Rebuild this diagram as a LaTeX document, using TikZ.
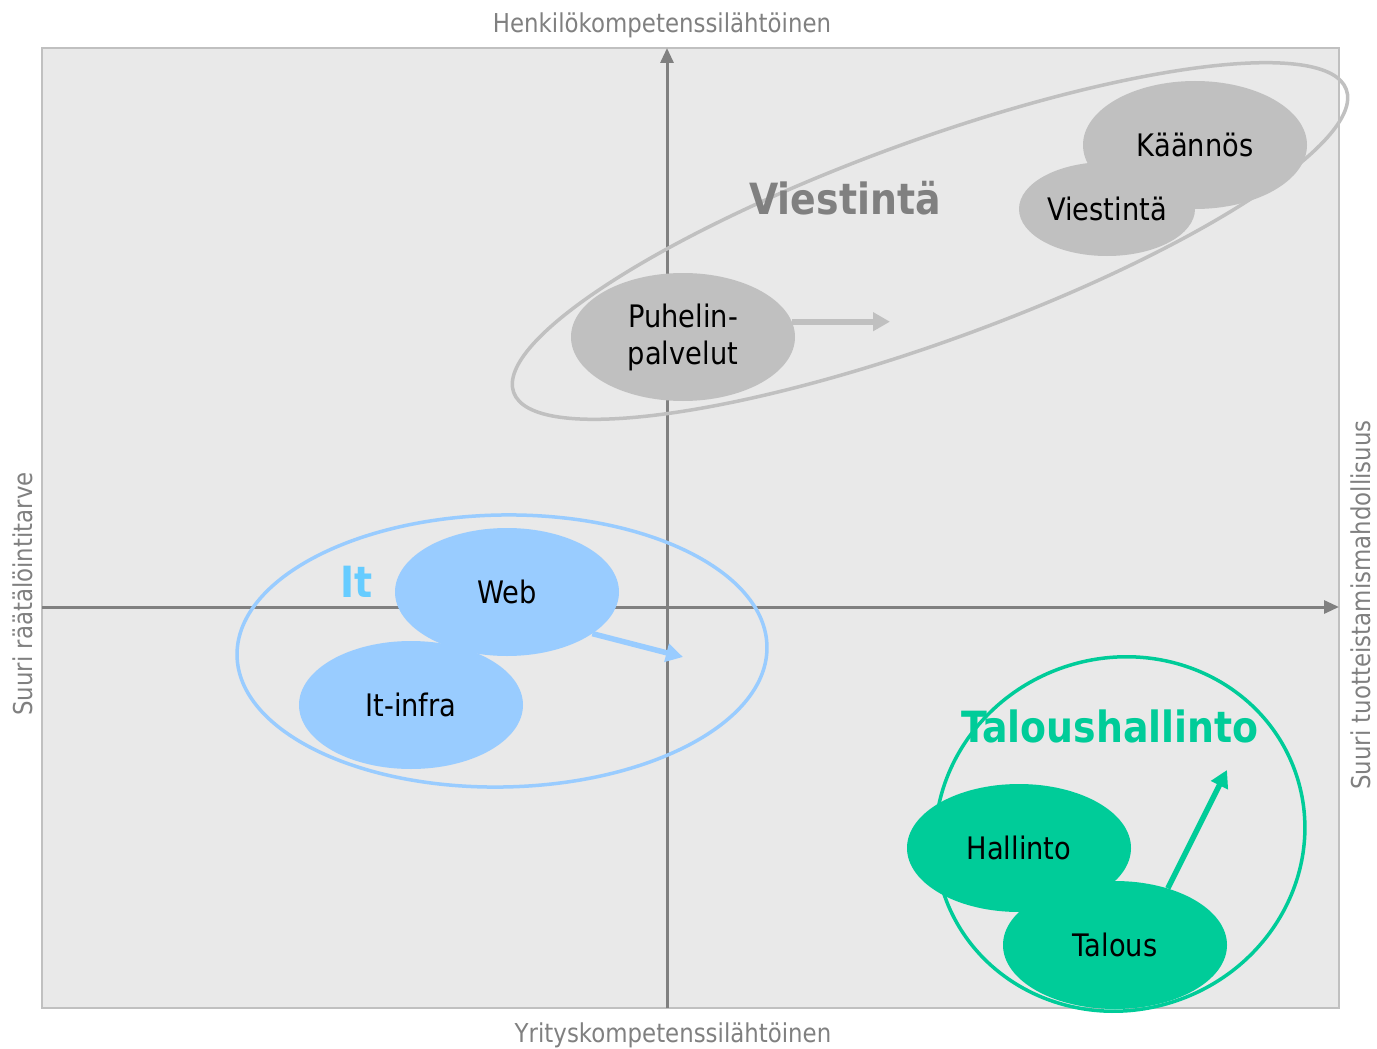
\documentclass[tikz,border=0pt]{standalone}
\usepackage{fontspec}
\setmainfont{DejaVu Sans}[FakeStretch=0.88]
\usetikzlibrary{arrows.meta,shapes.geometric,calc}

\definecolor{paneGray}{HTML}{E9E9E9}
\definecolor{frameGray}{HTML}{C0C0C0}
\definecolor{axisGray}{HTML}{808080}
\definecolor{itBlue}{HTML}{99CCFF}
\definecolor{itText}{HTML}{66CCFF}
\definecolor{taloGreen}{HTML}{00CC99}

\begin{document}
\begin{tikzpicture}[x=1pt, y=-1pt,
	blob/.style={ellipse, minimum width=224pt, minimum height=128pt, inner sep=0pt,
		text=black, align=center, font=\fontsize{31}{37}\selectfont},
	axislabel/.style={text=axisGray, anchor=base, inner sep=0pt, font=\fontsize{26}{30}\selectfont},
	grouplabel/.style={font=\fontsize{43}{48}\selectfont\bfseries},
	ring/.style={line width=3.5pt},
	move/.style={-{Triangle[length=17pt,width=18pt]}, line width=5.5pt}]
	\useasboundingbox (0,0) rectangle (1377,1049);

	\coordinate		(NW)	at	(42,48);
	\coordinate		(SE)	at	(1339,1008);
	\coordinate		(Ybot)	at	(667,1008);
	\coordinate		(Ytop)	at	(667,48);
	\coordinate		(Xleft)	at	(42,607);
	\coordinate		(Xright)	at	(1339,607);

	% quadrant field and axes
	\draw[fill=paneGray, draw=frameGray, line width=2pt] (NW) rectangle (SE);
	\draw[-{Triangle[length=15pt,width=13pt]}, axisGray, line width=3pt] (Ybot) -- (Ytop);
	\draw[-{Triangle[length=15pt,width=13pt]}, axisGray, line width=3pt] (Xleft) -- (Xright);

	\node[axislabel]			(top)	at	(662,33)	{Henkilökompetenssilähtöinen};
	\node[axislabel]			(bottom)	at	(673,1042)	{Yrityskompetenssilähtöinen};
	\node[axislabel, rotate=90]	(left)	at	(32,594)	{Suuri räätälöintitarve};
	\node[axislabel, rotate=90]	(right)	at	(1370,605)	{Suuri tuotteistamismahdollisuus};

	% group outlines
	\draw[ring, frameGray] [rotate around={20:(930,241)}] (930,241) ellipse [x radius=443, y radius=100];
	\draw[ring, itBlue] [rotate around={1:(502,651)}] (502,651) ellipse [x radius=265, y radius=136];
	\draw[ring, taloGreen] [rotate around={20:(1120,834)}] (1120,834) ellipse [x radius=186, y radius=176];

	% Viestinta
	\node[blob, fill=frameGray]	(Kaannos)	at	(1195,145)	{Käännös};
	\node[blob, fill=frameGray, minimum width=176pt, minimum height=94pt]
								(Viest)	at	(1107,209)	{Viestintä};
	\node[blob, fill=frameGray]	(Puhelin)	at	(683,337)	{Puhelin-\\palvelut};
	\node[grouplabel, text=axisGray]	(viestlabel)	at	(845,198)	{Viestintä};
	\coordinate (puhtip) at (890,320);
	\draw[move, frameGray, line width=6pt] (Puhelin.8) -- (Puhelin.8 -| puhtip);

	% It
	\node[blob, fill=itBlue]	(Web)	at	(507,592)	{Web};
	\node[blob, fill=itBlue]	(Infra)	at	(411,705)	{It-infra};
	\node[grouplabel, text=itText]	(itlabel)	at	(357,582)	{It};
	\coordinate (webtip) at (683,657);
	\draw[move, itBlue] (Web.-26) -- (webtip);

	% Taloushallinto
	\node[blob, fill=taloGreen]	(Hallinto)	at	(1019,848)	{Hallinto};
	\node[blob, fill=taloGreen]	(Talous)	at	(1115,945)	{Talous};
	\node[grouplabel, text=taloGreen]	(talolabel)	at	(1110,726)	{Taloushallinto};
	\coordinate (talotip) at (1227,770);
	\draw[move, taloGreen] (Talous.47) -- (talotip);

\end{tikzpicture}
\end{document}
